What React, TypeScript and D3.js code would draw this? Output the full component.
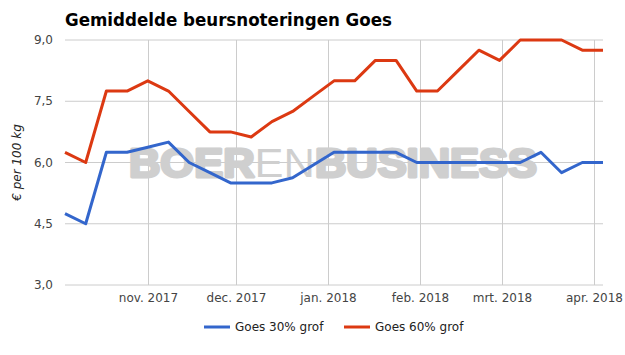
import React from "react";
import * as d3 from "d3";

const startDate = "2017-10-04";
const series30 = [4.75, 4.5, 6.25, 6.25, 6.375, 6.5, 6.0, 5.75, 5.5, 5.5, 5.5, 5.625, 5.94, 6.25, 6.25, 6.25, 6.25, 6.0, 6.0, 6.0, 6.0, 6.0, 6.0, 6.25, 5.75, 6.0, 6.0];
const series60 = [6.25, 6.0, 7.75, 7.75, 8.0, 7.75, 7.25, 6.75, 6.75, 6.625, 7.0, 7.25, 7.625, 8.0, 8.0, 8.5, 8.5, 7.75, 7.75, 8.25, 8.75, 8.5, 9.0, 9.0, 9.0, 8.75, 8.75];
const seriesNames = ["Goes 30% grof", "Goes 60% grof"];
const seriesColors = ["#3366cc", "#dc3912"];
const yTicks = [3.0, 4.5, 6.0, 7.5, 9.0];
const monthTicks = ["2017-11-01", "2017-12-01", "2018-01-01", "2018-02-01", "2018-03-01", "2018-04-01"];
const monthLabels = ["nov. 2017", "dec. 2017", "jan. 2018", "feb. 2018", "mrt. 2018", "apr. 2018"];

const W = 625, H = 355;
const left = 65, right = 603, top = 40, bottom = 285;
const font = "'DejaVu Sans', sans-serif";

export default function App() {
  const parse = d3.utcParse("%Y-%m-%d");
  const start = parse(startDate)!;
  const dates = series30.map((_, i) => d3.utcDay.offset(start, i * 7));
  const x = d3.scaleUtc().domain([dates[0], dates[dates.length - 1]]).range([left, right]);
  const y = d3.scaleLinear().domain([3, 9]).range([bottom, top]);
  const line = d3.line<number>().x((_, i) => x(dates[i])).y(d => y(d));
  const fmt = (v: number) => v.toFixed(1).replace(".", ",");
  const data = [series30, series60];

  return (
    <svg width={W} height={H} style={{ display: "block", position: "absolute", left: 0, top: 0 }}>
      <rect width={W} height={H} fill="#fff" />
      <text x={65} y={26} fontFamily={font} fontWeight="bold" fontSize={18} fill="#000" textLength={327} lengthAdjust="spacingAndGlyphs">
        Gemiddelde beursnoteringen Goes
      </text>
      {yTicks.map(t => (
        <g key={t}>
          <line x1={left} x2={right} y1={y(t)} y2={y(t)} stroke="#cccccc" strokeWidth={1} />
          <text x={53} y={y(t) + 4} textAnchor="end" fontFamily={font} fontSize={12} fill="#444">{fmt(t)}</text>
        </g>
      ))}
      {monthTicks.map((m, i) => {
        const xx = Math.round(x(parse(m)!)) + 0.5;
        return (
          <g key={m}>
            <line x1={xx} x2={xx} y1={top} y2={bottom} stroke="#cccccc" strokeWidth={1} />
            <text x={xx} y={302} textAnchor="middle" fontFamily={font} fontSize={12} fill="#444">{monthLabels[i]}</text>
          </g>
        );
      })}
      <text transform={`translate(21,${(top + bottom) / 2}) rotate(-90)`} textAnchor="middle" fontFamily={font} fontSize={12} fontStyle="italic" fill="#222">
        € per 100 kg
      </text>
      <text x={129} y={177} fontFamily="'Liberation Sans', Arial, sans-serif" fontSize={40} fill="#cfcfcf" textLength={408} lengthAdjust="spacingAndGlyphs">
        <tspan fontWeight="bold" stroke="#cfcfcf" strokeWidth={3} strokeLinejoin="round">BOER</tspan>
        <tspan fontWeight="normal">EN</tspan>
        <tspan fontWeight="bold" stroke="#cfcfcf" strokeWidth={3} strokeLinejoin="round">BUSINESS</tspan>
      </text>
      {data.map((s, i) => (
        <path key={i} d={line(s) || ""} fill="none" stroke={seriesColors[i]} strokeWidth={3} strokeLinejoin="round" />
      ))}
      {seriesNames.map((n, i) => {
        const lx = i === 0 ? 204 : 344;
        return (
          <g key={n}>
            <line x1={lx} x2={lx + 26} y1={327} y2={327} stroke={seriesColors[i]} strokeWidth={3} />
            <text x={lx + 31} y={331} fontFamily={font} fontSize={12} fill="#222">{n}</text>
          </g>
        );
      })}
    </svg>
  );
}
